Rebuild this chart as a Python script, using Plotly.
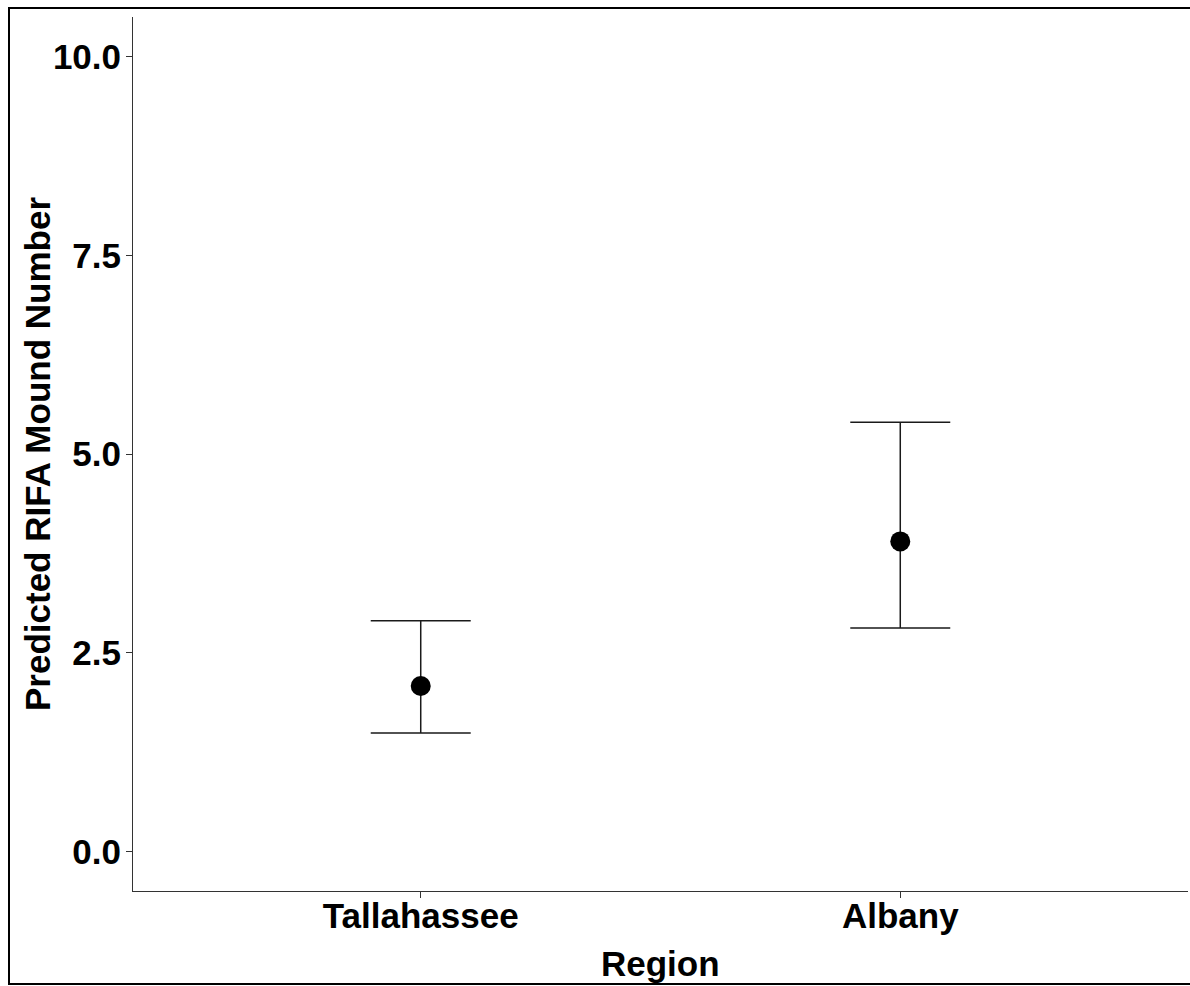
import plotly.graph_objects as go

regions = ["Tallahassee", "Albany"]
predicted = [2.08, 3.90]
lower = [1.49, 2.81]
upper = [2.90, 5.40]
y_ticks = [0.0, 2.5, 5.0, 7.5, 10.0]
x_title = "Region"
y_title = "Predicted RIFA Mound Number"

err_plus = [u - p for u, p in zip(upper, predicted)]
err_minus = [p - l for p, l in zip(predicted, lower)]

FONT = "Liberation Sans, Arial, sans-serif"
FS = 35
W, H = 1190, 986
sx0, sx1, sy0, sy1 = 133, 1188, 17, 891
L = sx0
R = W - sx1
T = sy0
B = H - sy1
pw, ph = W - L - R, H - T - B

def px_to_paper_x(sx):
    return (sx - L) / pw

def px_to_paper_y(sy):
    return (H - B - sy) / ph

fig = go.Figure()
fig.add_trace(go.Scatter(
    x=regions, y=predicted, mode="markers",
    marker=dict(size=20, color="black"),
    error_y=dict(type="data", symmetric=False, array=err_plus, arrayminus=err_minus,
                 color="#1a1a1a", thickness=1.5, width=50),
    showlegend=False,
))

fig.update_layout(
    width=W, height=H,
    margin=dict(l=L, r=R, t=T, b=B, pad=0),
    paper_bgcolor="white", plot_bgcolor="white",
    font=dict(family=FONT, size=FS, color="black", weight="bold"),
    xaxis=dict(
        type="category", range=[-0.6, 1.6],
        showline=True, linecolor="#333333", linewidth=1,
        ticks="outside", ticklen=6, tickcolor="#333333", tickwidth=1,
        showgrid=False, zeroline=False,
        tickfont=dict(family=FONT, size=FS, color="black", weight="bold"),
        ticklabelstandoff=-12,
    ),
    yaxis=dict(
        range=[-0.5, 10.5], tickvals=y_ticks, tickformat=".1f",
        showline=True, linecolor="#333333", linewidth=1,
        ticks="outside", ticklen=6, tickcolor="#333333", tickwidth=1,
        showgrid=False, zeroline=False,
        tickfont=dict(family=FONT, size=FS, color="black", weight="bold"),
        ticklabelstandoff=-2,
    ),
    annotations=[
        dict(text=x_title, xref="paper", yref="paper", x=0.5, y=px_to_paper_y(963),
             xanchor="center", yanchor="middle", showarrow=False,
             font=dict(family=FONT, size=FS, color="black", weight="bold")),
        dict(text=y_title, xref="paper", yref="paper", x=px_to_paper_x(37), y=0.5,
             xanchor="center", yanchor="middle", showarrow=False, textangle=-90,
             font=dict(family=FONT, size=FS, color="black", weight="bold")),
    ],
    shapes=[
        dict(type="rect", xref="paper", yref="paper",
             x0=px_to_paper_x(9), x1=px_to_paper_x(1205),
             y0=px_to_paper_y(984), y1=px_to_paper_y(8),
             line=dict(color="black", width=2), fillcolor="rgba(0,0,0,0)", layer="above"),
    ],
)

fig.write_html(
    "out.html",
    config={"displayModeBar": False},
    post_script="document.body.style.margin='0';document.body.style.overflow='hidden';",
)
